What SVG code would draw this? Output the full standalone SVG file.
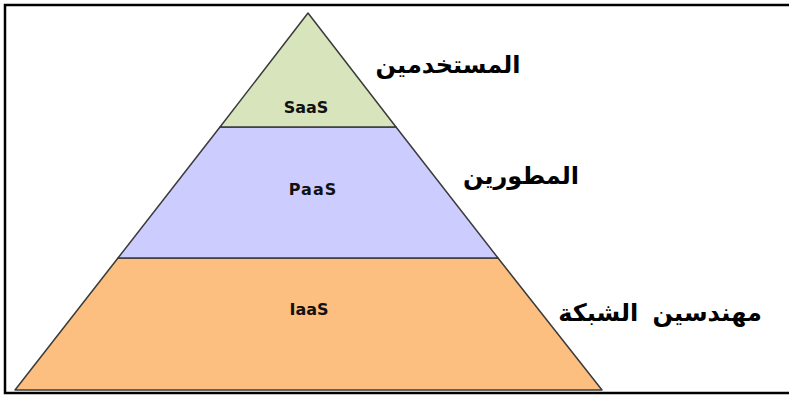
<svg xmlns="http://www.w3.org/2000/svg" width="789" height="396" viewBox="0 0 789 396">
  <style>
    .layer { stroke: #3a3a3a; stroke-width: 1.5; stroke-linejoin: round; }
    .en { font-family: "DejaVu Sans", Verdana, sans-serif; font-weight: bold; font-size: 16px; fill: #111; text-anchor: middle; }
    .ar { font-family: "DejaVu Sans", "Noto Sans", sans-serif; font-weight: bold; font-size: 24px; fill: #000; text-anchor: middle; direction: rtl; }
  </style>
  <rect x="0" y="0" width="789" height="396" fill="#ffffff"/>
  <rect id="frame" x="5" y="5" width="800" height="388" fill="none" stroke="#000" stroke-width="2.5"/>
  <g id="iaas">
    <polygon class="layer" points="118,258 498,258 602,390 15,390" fill="#fdbf80"/>
    <text class="en" x="309" y="315">IaaS</text>
  </g>
  <g id="paas">
    <polygon class="layer" points="220,127 396,127 498,258 118,258" fill="#ccccff"/>
    <text class="en" x="313" y="195" style="letter-spacing:1px">PaaS</text>
  </g>
  <g id="saas">
    <polygon class="layer" points="308,13 396,127 220,127" fill="#d7e4bc"/>
    <text class="en" x="306" y="113">SaaS</text>
  </g>
  <g id="labels">
    <text class="ar" x="448" y="73">المستخدمين</text>
    <text class="ar" x="521" y="184">المطورين</text>
    <text class="ar" x="660" y="321" style="word-spacing:6px">مهندسين الشبكة</text>
  </g>
  <g id="connectors"></g>
</svg>
